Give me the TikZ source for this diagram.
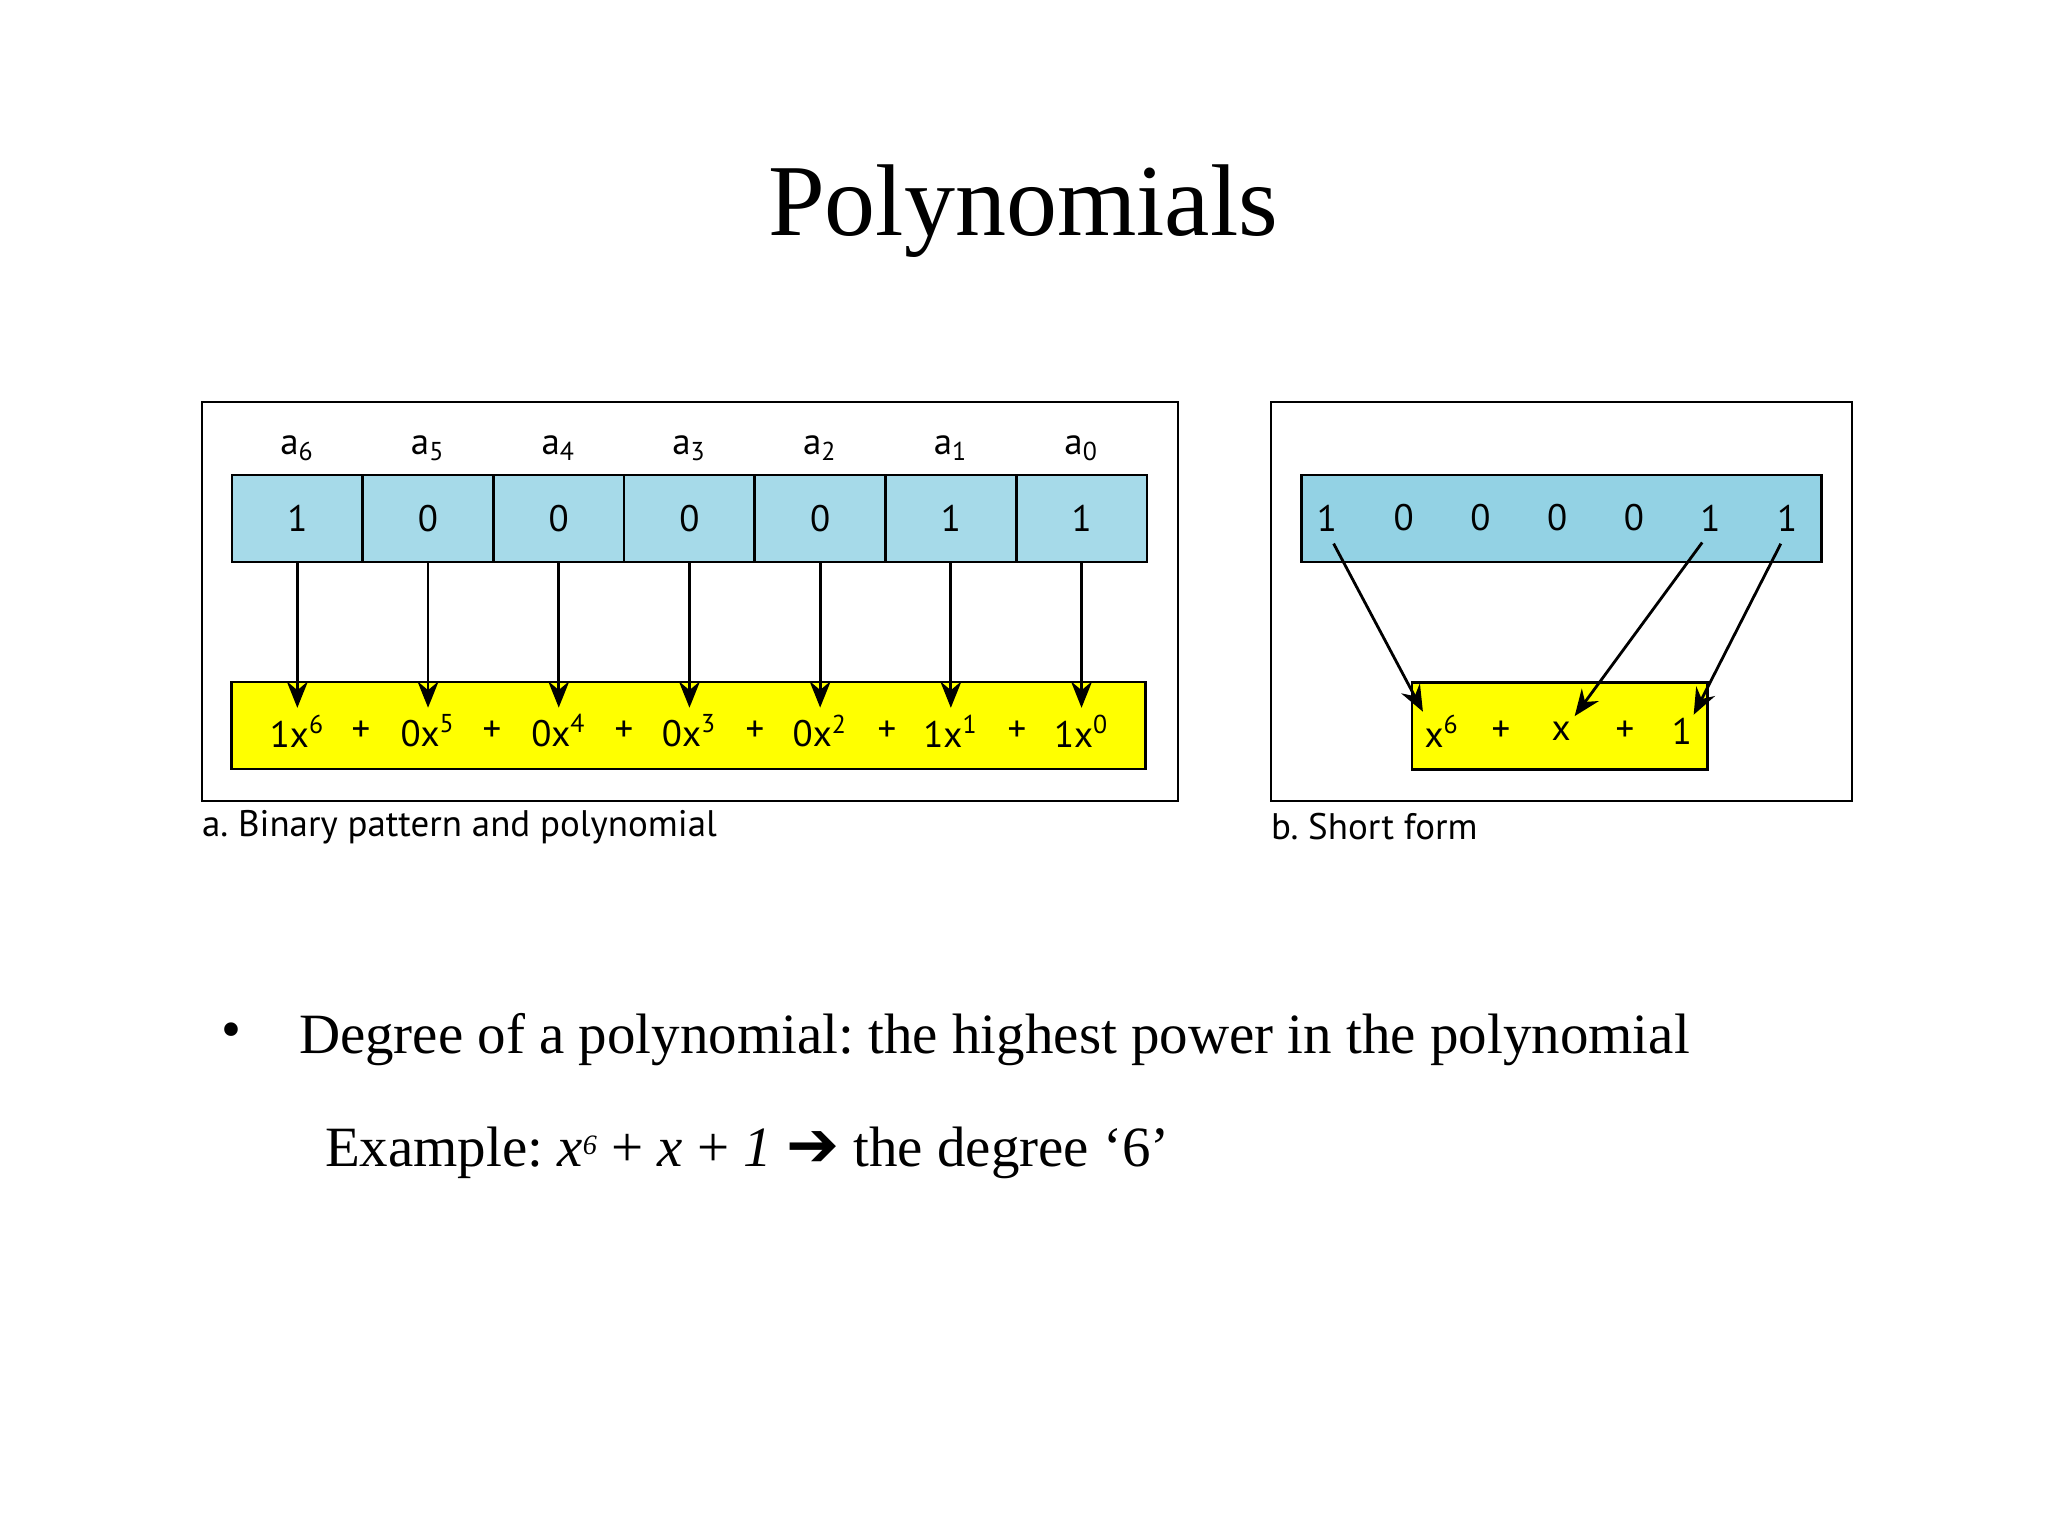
\documentclass[tikz,border=0pt]{standalone}
\usepackage{fontspec}
\setmainfont{Liberation Serif}
\newfontfamily\figfont{PT Sans}
\newfontfamily\arrowfont{DejaVu Sans}
\usetikzlibrary{arrows.meta}
\definecolor{cellblue}{RGB}{166,218,233}
\definecolor{bitblue}{RGB}{147,210,228}
\definecolor{polyyellow}{RGB}{255,255,0}
\frenchspacing
\begin{document}
\begin{tikzpicture}[x=0.01cm,y=-0.01cm,inner sep=0pt,outer sep=0pt,
figtext/.style={font=\figfont\fontsize{10.5}{12}\selectfont},
frame/.style={draw,line width=0.7pt},
cell/.style={draw,rectangle,fill=cellblue,line width=0.8pt,minimum width=1.307cm,minimum height=0.87cm,figtext},
polybox/.style={draw,rectangle,fill=polyyellow,line width=0.8pt,minimum height=0.87cm},
arr/.style={-{Stealth[length=7.5pt,width=6pt,inset=2.5pt]},line width=0.8pt}]
\useasboundingbox (0,0) rectangle (2048,1536);
\node[anchor=base,font=\fontsize{29}{34}\selectfont] (title) at (1023,235) {Polynomials};
% a. binary pattern and polynomial
\draw[frame] (202,402) rectangle (1178,801);
\draw (297.35,518.5) node[cell] (c6) {1};
\draw (428.05,518.5) node[cell] (c5) {0};
\draw (558.75,518.5) node[cell] (c4) {0};
\draw (689.45,518.5) node[cell] (c3) {0};
\draw (820.15,518.5) node[cell] (c2) {0};
\draw (950.85,518.5) node[cell] (c1) {1};
\draw (1081.55,518.5) node[cell] (c0) {1};
\draw (297.35,448) node[figtext] (a6) {a\textsubscript{6}};
\draw (428.05,448) node[figtext] (a5) {a\textsubscript{5}};
\draw (558.75,448) node[figtext] (a4) {a\textsubscript{4}};
\draw (689.45,448) node[figtext] (a3) {a\textsubscript{3}};
\draw (820.15,448) node[figtext] (a2) {a\textsubscript{2}};
\draw (950.85,448) node[figtext] (a1) {a\textsubscript{1}};
\draw (1081.55,448) node[figtext] (a0) {a\textsubscript{0}};
\draw (688.5,725.5) node[polybox,minimum width=9.13cm] (poly) {};
\draw (297.35,731) node[figtext] (t6) {1x\textsuperscript{6}};
\draw (428.05,731) node[figtext] (t5) {0x\textsuperscript{5}};
\draw (558.75,731) node[figtext] (t4) {0x\textsuperscript{4}};
\draw (689.45,731) node[figtext] (t3) {0x\textsuperscript{3}};
\draw (820.15,731) node[figtext] (t2) {0x\textsuperscript{2}};
\draw (950.85,731) node[figtext] (t1) {1x\textsuperscript{1}};
\draw (1081.55,731) node[figtext] (t0) {1x\textsuperscript{0}};
\draw (361,731) node[figtext] (p1) {+};
\draw (492,731) node[figtext] (p2) {+};
\draw (624,731) node[figtext] (p3) {+};
\draw (755,731) node[figtext] (p4) {+};
\draw (887,731) node[figtext] (p5) {+};
\draw (1017,731) node[figtext] (p6) {+};
\draw[arr,shorten >=2pt] (c6.south) -- (t6.north);
\draw[arr,shorten >=2pt] (c5.south) -- (t5.north);
\draw[arr,shorten >=2pt] (c4.south) -- (t4.north);
\draw[arr,shorten >=2pt] (c3.south) -- (t3.north);
\draw[arr,shorten >=2pt] (c2.south) -- (t2.north);
\draw[arr,shorten >=2pt] (c1.south) -- (t1.north);
\draw[arr,shorten >=2pt] (c0.south) -- (t0.north);
\draw (202,827) node[figtext,anchor=west] (capa) {a. Binary pattern and polynomial};
% b. short form
\draw[frame] (1271,402) rectangle (1852,801);
\draw (1561.5,518.5) node[cell,fill=bitblue,minimum width=5.19cm] (bits) {};
\draw (1327,518) node[figtext] (b6) {1};
\draw (1403.7,518) node[figtext] (b5) {0};
\draw (1480.4,518) node[figtext] (b4) {0};
\draw (1557.1,518) node[figtext] (b3) {0};
\draw (1633.8,518) node[figtext] (b2) {0};
\draw (1710.5,518) node[figtext] (b1) {1};
\draw (1787.2,518) node[figtext] (b0) {1};
\draw (1559.5,726) node[polybox,minimum width=2.95cm] (short) {};
\draw (1442,731) node[figtext] (s6) {x\textsuperscript{6}};
\draw (1501,731) node[figtext] (q1) {+};
\draw (1561,731) node[figtext] (s1) {x};
\draw (1625,731) node[figtext] (q2) {+};
\draw (1682,731) node[figtext] (s0) {1};
\draw[arr,shorten <=4pt,shorten >=1pt] (b6.south) -- (s6.north west);
\draw[arr,shorten <=4pt,shorten >=2pt] (b1.south) -- (s1.north east);
\draw[arr,shorten <=4pt,shorten >=1pt] (b0.south) -- (s0.north east);
\draw (1271,827) node[figtext,anchor=west] (capb) {b. Short form};
% degree
\draw (231,1036) node[font=\fontsize{16.2}{19}\selectfont] (dot) {\textbullet};
\draw (299,1053) node[anchor=base west,font=\fontsize{16.2}{19}\selectfont] (degree) {Degree of a polynomial: the highest power in the polynomial};
\draw (325,1166) node[anchor=base west,font=\fontsize{16.2}{19}\selectfont] (example) {Example: \textit{x}\raisebox{0.45ex}{\fontsize{8}{9}\selectfont\textit{6}} + \textit{x} + \textit{1} {\arrowfont\fontsize{18}{20}\selectfont ➔} the degree ‘6’};
\end{tikzpicture}
\end{document}
